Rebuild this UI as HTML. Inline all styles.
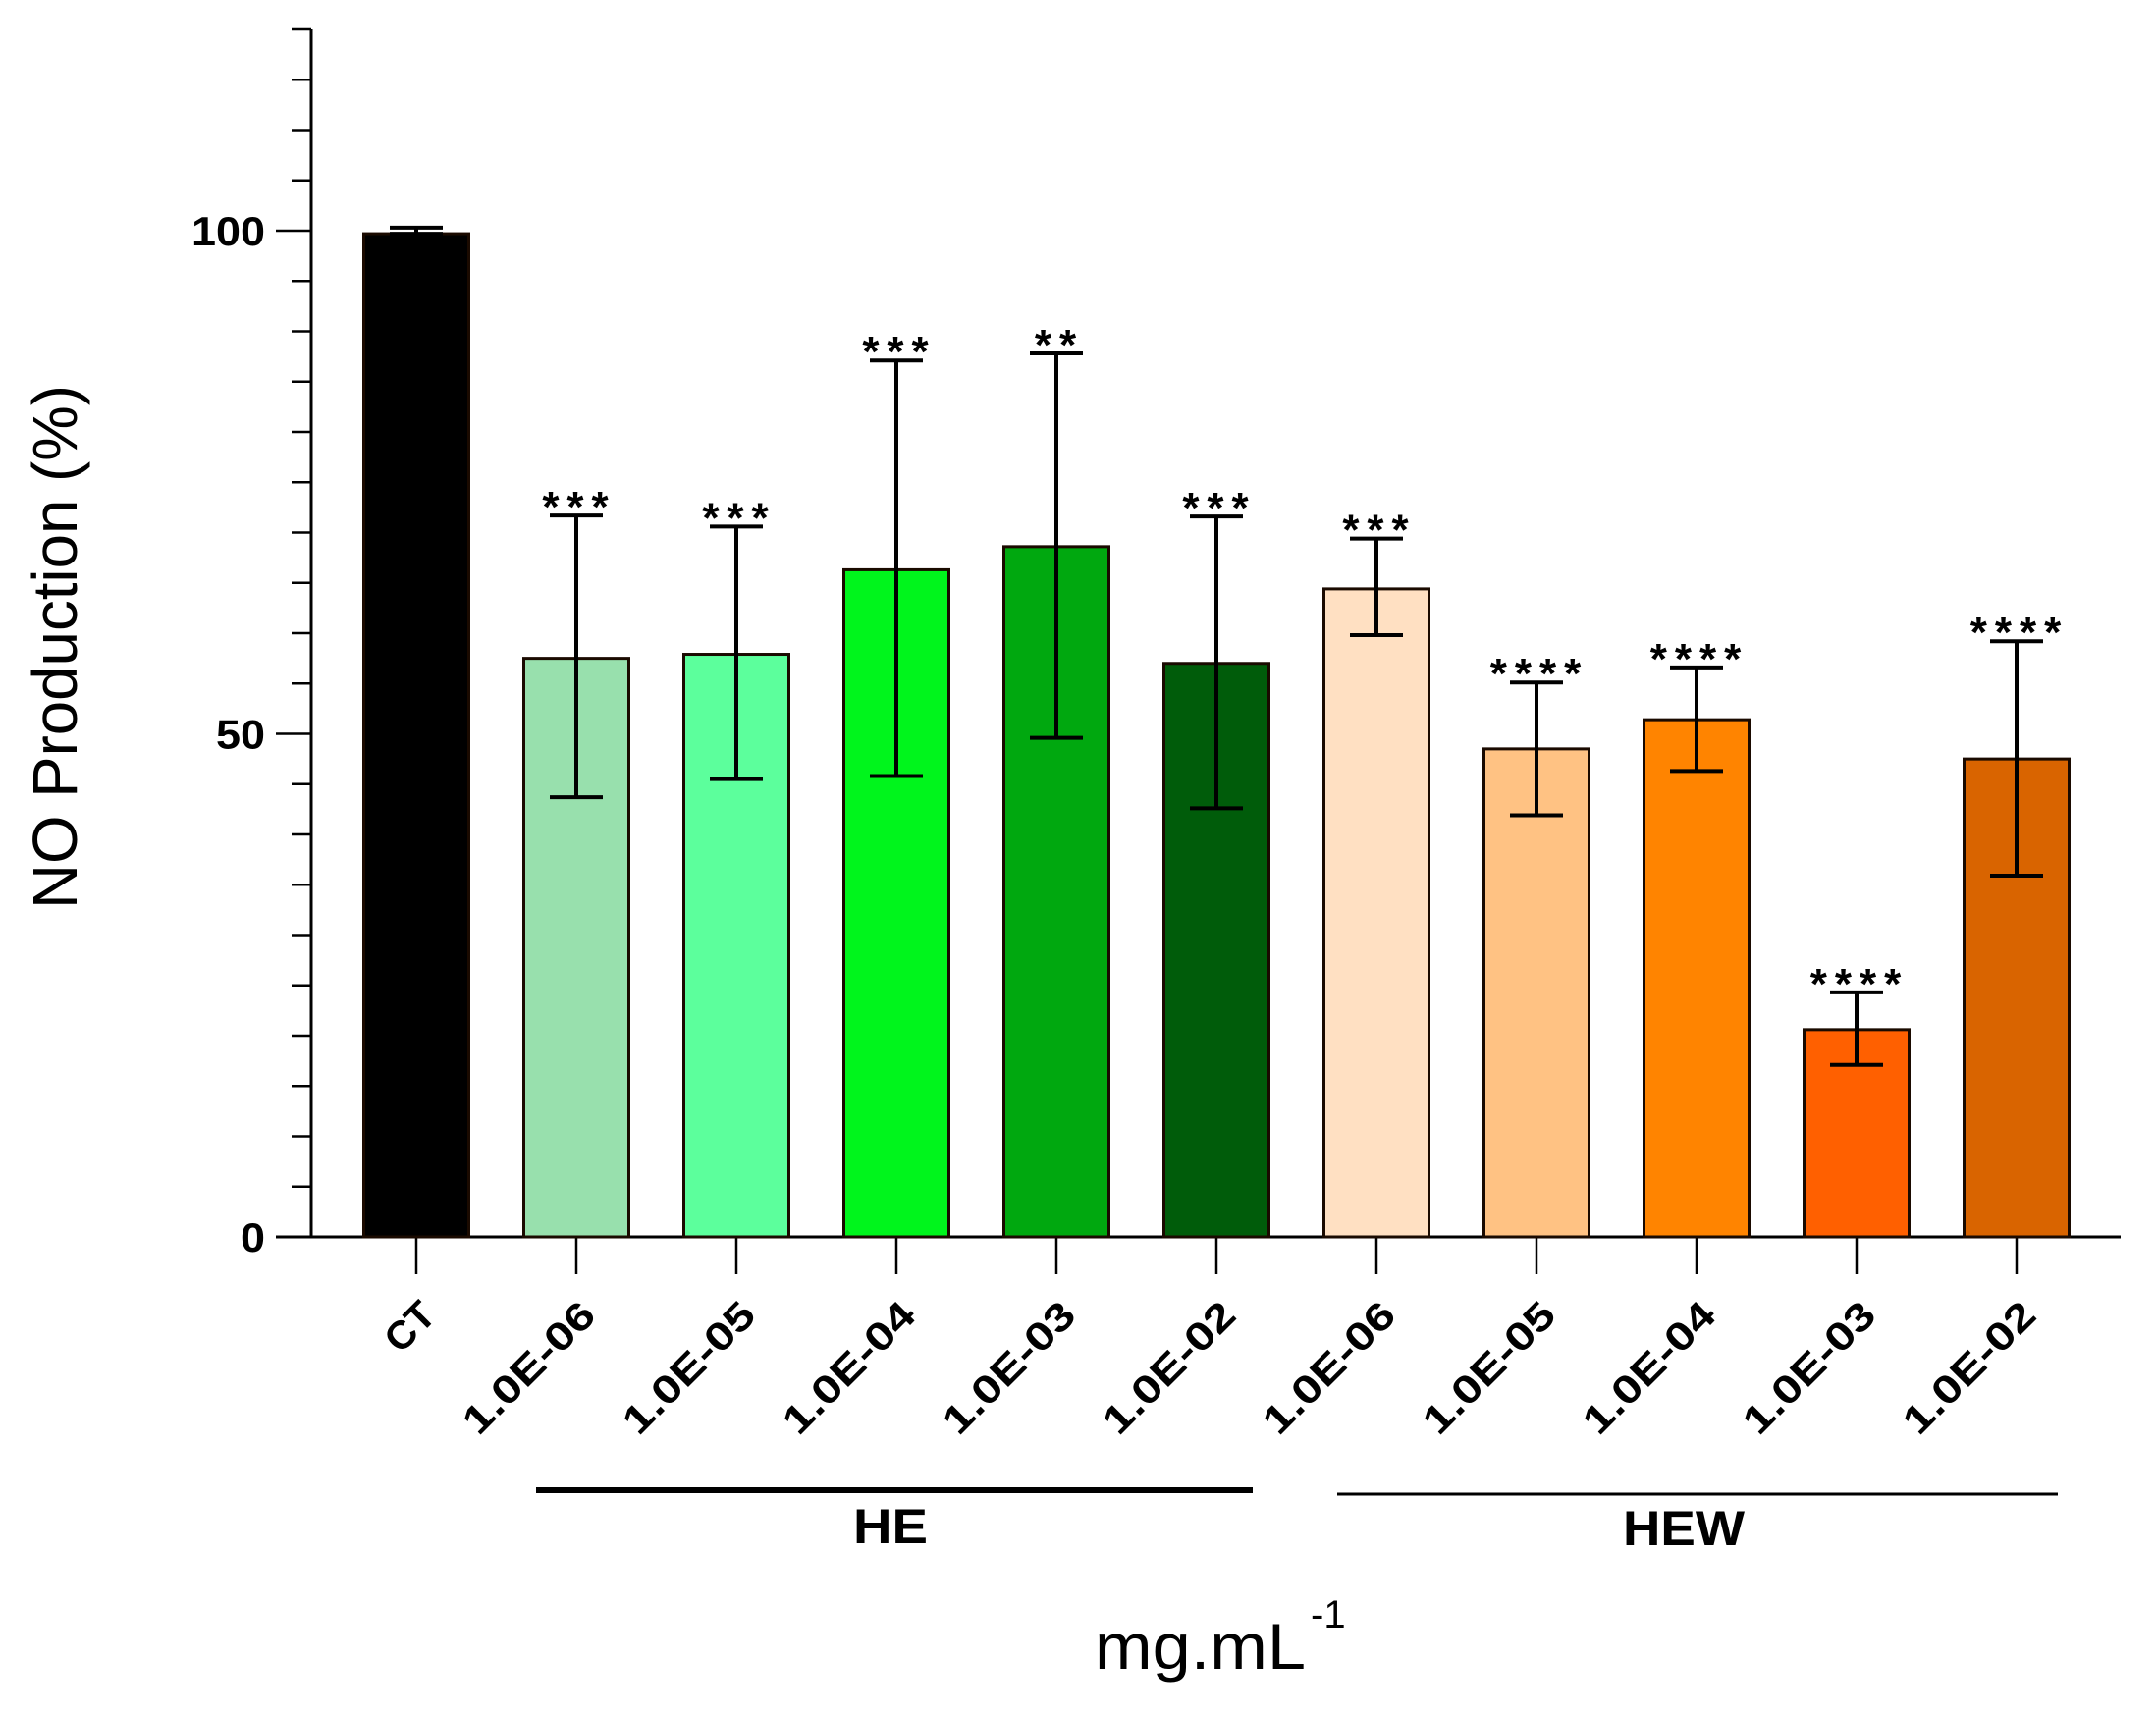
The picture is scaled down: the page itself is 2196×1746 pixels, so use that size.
<!DOCTYPE html>
<html><head><meta charset="utf-8"><style>
html,body{margin:0;padding:0;background:#fff;}
svg{display:block;}
text{font-family:"Liberation Sans",sans-serif;}
</style></head><body>
<svg id="chart" width="2196" height="1746" viewBox="0 0 2196 1746">
<g id="axes"></g>
<g id="bars"></g>
<g id="xlabels"></g>
<text transform="translate(78,659) rotate(-90)" text-anchor="middle" font-size="64" textLength="534" lengthAdjust="spacingAndGlyphs">NO Production (%)</text>
<line x1="546" y1="1518" x2="1276" y2="1518" stroke="#000" stroke-width="6"/>
<line x1="1362" y1="1522" x2="2096" y2="1522" stroke="#000" stroke-width="3"/>
<text x="907" y="1572" text-anchor="middle" font-size="50" font-weight="bold" textLength="76" lengthAdjust="spacingAndGlyphs">HE</text>
<text x="1715" y="1574" text-anchor="middle" font-size="50" font-weight="bold" textLength="124" lengthAdjust="spacingAndGlyphs">HEW</text>
<text x="1115" y="1700" font-size="66" textLength="215" lengthAdjust="spacingAndGlyphs">mg.mL</text>
<text x="1335" y="1658" font-size="40">-1</text>
</svg>
<script>
const categories = ["CT","1.0E-06","1.0E-05","1.0E-04","1.0E-03","1.0E-02","1.0E-06","1.0E-05","1.0E-04","1.0E-03","1.0E-02"];
const means = [99.7,57.5,57.9,66.3,68.6,57.0,64.4,48.5,51.4,20.6,47.5];
const errUpper = [100.3,71.7,70.6,87.1,87.8,71.6,69.4,55.1,56.6,24.3,59.2];
const errLower = [99.7,43.7,45.5,45.8,49.6,42.6,59.8,41.9,46.3,17.1,35.9];
const stars = ["","***","***","***","**","***","***","****","****","****","****"];
const colors = ["#000000","#98e0ad","#5cff9c","#00f51c","#00a80f","#005c0a","#ffe0c2","#ffc283","#ff8400","#ff6000","#d96400"];
const yTicks = [0,50,100];
const yMax = 120;

const NS="http://www.w3.org/2000/svg";
const X0=317, Y0=1260, PX=10.25, C0=424, STEP=163, BW=107, XEND=2160;
const y = v => Y0 - v*PX;
const xc = i => C0 + i*STEP;
function mk(tag, attrs, parent){const e=document.createElementNS(NS,tag);for(const k in attrs)e.setAttribute(k,attrs[k]);parent.appendChild(e);return e;}
const axes=document.getElementById('axes'), bars=document.getElementById('bars'), xl=document.getElementById('xlabels');

let el=mk('line',{x1:X0,y1:y(yMax),x2:X0,y2:Y0,stroke:'#000','stroke-width':3},axes);


el=mk('line',{x1:X0-36,y1:Y0,x2:XEND,y2:Y0,stroke:'#000','stroke-width':3},axes);


for(let v=0; v<=yMax; v+=5){
  const major = yTicks.includes(v);
  el=mk('line',{x1:major?X0-36:X0-20,y1:y(v),x2:X0,y2:y(v),stroke:'#000','stroke-width':2.5},axes);
  
  
}
yTicks.forEach(v=>{
  const t=mk('text',{x:270,y:y(v)+15,'text-anchor':'end','font-size':42,'font-weight':'bold'},axes);
  t.textContent=String(v);
  t.setAttribute('textLength',String(v).length*25);
  t.setAttribute('lengthAdjust','spacingAndGlyphs');
  
  
});

categories.forEach((c,i)=>{
  const cx=xc(i);
  const r=mk('rect',{x:cx-BW/2,y:y(means[i]),width:BW,height:Y0-y(means[i]),fill:colors[i],stroke:'#1a0a00','stroke-width':3},bars);
  
  
  const g=mk('g',{stroke:'#000','stroke-width':4},bars);
  
  
  mk('line',{x1:cx,y1:y(errUpper[i]),x2:cx,y2:y(errLower[i])},g);
  mk('line',{x1:cx-27,y1:y(errUpper[i]),x2:cx+27,y2:y(errUpper[i])},g);
  mk('line',{x1:cx-27,y1:y(errLower[i]),x2:cx+27,y2:y(errLower[i])},g);
  if(stars[i]){
    const s=mk('text',{x:cx+3,y:y(errUpper[i])+6,'text-anchor':'middle','font-size':44,'font-weight':'bold','letter-spacing':8},bars);
    s.textContent=stars[i];
    
    
  }
  const tk=mk('line',{x1:cx,y1:Y0,x2:cx,y2:Y0+38,stroke:'#000','stroke-width':2.5},axes);
  
  
  const lt=mk('text',{transform:`translate(${cx+22},${Y0+82}) rotate(-45)`,'text-anchor':'end','font-size':40,'font-weight':'bold'},xl);
  lt.textContent=c;
  lt.setAttribute('textLength',c.length>2?172:54);
  lt.setAttribute('lengthAdjust','spacingAndGlyphs');
  
  
});
</script>
</body></html>
